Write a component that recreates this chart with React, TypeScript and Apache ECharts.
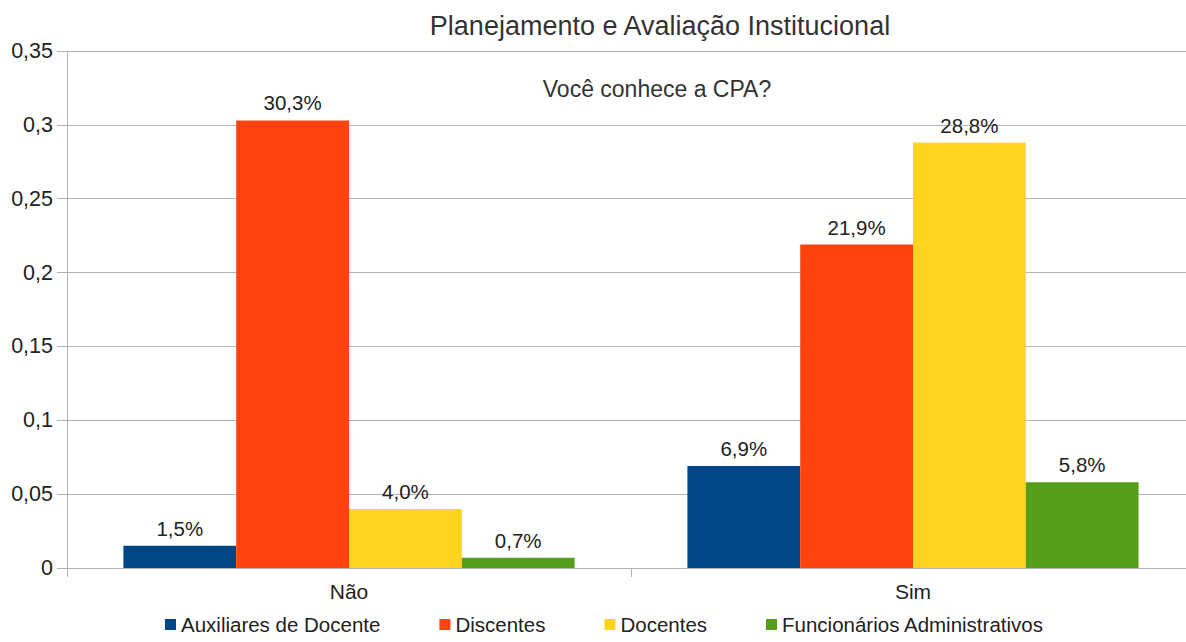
import React, { useEffect, useRef } from "react";
import * as echarts from "echarts";

const categories = ["Não", "Sim"];
const seriesNames = ["Auxiliares de Docente", "Discentes", "Docentes", "Funcionários Administrativos"];
const auxiliares = [0.015, 0.069];
const discentes = [0.303, 0.219];
const docentes = [0.040, 0.288];
const funcionarios = [0.007, 0.058];
const colors = ["#004586", "#ff420e", "#ffd320", "#579d1c"];

const FONT = "Liberation Sans, Arial, sans-serif";

export default function App() {
  const ref = useRef<HTMLDivElement>(null);
  useEffect(() => {
    if (!ref.current) return;
    const chart = echarts.init(ref.current, undefined, { renderer: "svg" });
    const dataSets = [auxiliares, discentes, docentes, funcionarios];
    chart.setOption({
      animation: false,
      textStyle: { fontFamily: FONT },
      title: [
        {
          text: "Planejamento e Avaliação Institucional",
          left: 655,
          textAlign: "center",
          top: 7,
          textStyle: { fontFamily: FONT, fontSize: 27, fontWeight: "normal", color: "#333" },
        },
        {
          text: "Você conhece a CPA?",
          left: 652,
          textAlign: "center",
          top: 72,
          textStyle: { fontFamily: FONT, fontSize: 23, fontWeight: "normal", color: "#333" },
        },
      ],
      legend: {
        left: 165,
        top: 614,
        padding: 0,
        icon: "rect",
        itemWidth: 11,
        itemHeight: 11,
        itemGap: 59,
        textStyle: { fontFamily: FONT, fontSize: 20.5, color: "#222" },
        data: seriesNames,
      },
      grid: { left: 67, top: 51, width: 1128, height: 517, containLabel: false },
      xAxis: {
        type: "category",
        data: categories,
        axisLine: { lineStyle: { color: "#b3b3b3", width: 1 } },
        axisTick: { show: true, length: 9, lineStyle: { color: "#b3b3b3" } },
        axisLabel: { fontFamily: FONT, fontSize: 21, color: "#222", margin: 13 },
      },
      yAxis: {
        type: "value",
        min: 0,
        max: 0.35,
        interval: 0.05,
        axisLine: { show: true, lineStyle: { color: "#b3b3b3", width: 1 } },
        axisTick: { show: true, length: 10, lineStyle: { color: "#b3b3b3" } },
        splitLine: { lineStyle: { color: "#b3b3b3", width: 1 } },
        axisLabel: {
          fontFamily: FONT,
          fontSize: 21.5,
          color: "#222",
          margin: 14,
          formatter: (v: number) => String(parseFloat(v.toFixed(2))).replace(".", ","),
        },
      },
      series: dataSets.map((d, i) => ({
        name: seriesNames[i],
        type: "bar",
        data: d,
        barGap: "0%",
        barCategoryGap: "20%",
        itemStyle: { color: colors[i] },
        label: {
          show: true,
          position: "top",
          distance: 7,
          fontFamily: FONT,
          fontSize: 20.5,
          color: "#222",
          formatter: (p: any) => (p.value * 100).toFixed(1).replace(".", ",") + "%",
        },
      })),
    });
    return () => chart.dispose();
  }, []);
  return (
    <div style={{ width: 1186, height: 642, position: "absolute", left: 0, top: 0, overflow: "hidden" }}>
      <div ref={ref} style={{ width: 1200, height: 642 }} />
    </div>
  );
}
